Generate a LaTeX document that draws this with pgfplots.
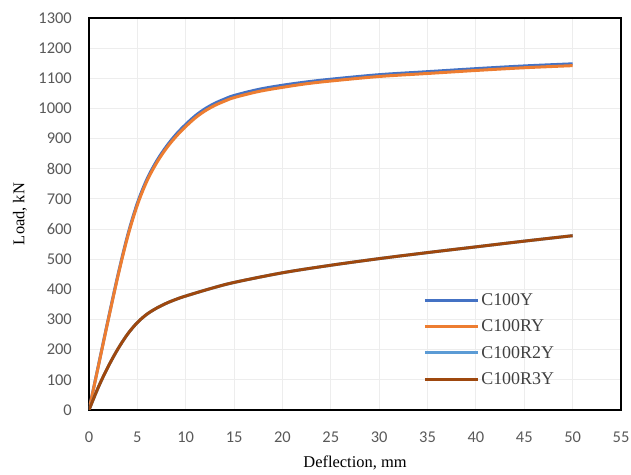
\documentclass[border=0pt]{standalone}
\usepackage{fontspec}
\setmainfont{Liberation Serif}
\newfontfamily\carlito{Carlito}
\usepackage{pgfplots}
\pgfplotsset{compat=1.18}
\definecolor{cA}{HTML}{4472C4}
\definecolor{cB}{HTML}{ED7D31}
\definecolor{cC}{HTML}{5B9BD5}
\definecolor{cD}{HTML}{9E480E}
\definecolor{tickgray}{HTML}{595959}
\begin{document}
\begin{tikzpicture}
\useasboundingbox (-89bp,-65bp) rectangle (542bp,410bp);
\begin{axis}[
  scale only axis,
  width=532bp, height=392bp,
  xmin=0, xmax=55, ymin=0, ymax=1300,
  xtick={0,5,...,55}, ytick={0,100,...,1300},
  major tick length=0pt,
  grid=major,
  major grid style={color=black!7, line width=1bp},
  axis line style={black, line width=1.1bp},
  /pgf/number format/assume math mode=true,
  /pgf/number format/1000 sep={},
  ticklabel style={font=\carlito\fontsize{16.5}{19}\selectfont, text=tickgray, inner sep=0pt},
  xticklabel style={anchor=center, yshift=-27bp},
  yticklabel style={anchor=east, xshift=-17bp},
  xlabel={Deflection, mm},
  ylabel={Load, kN},
  label style={font=\fontsize{16.5}{19}\selectfont, text=black},
  xlabel style={at={(axis description cs:0.5,-0.135)}, anchor=center},
  ylabel style={at={(axis description cs:-0.13,0.5)}, anchor=center},
  legend style={draw=none, fill=none, at={(axis description cs:0.628,0.303)}, anchor=north west,
    font=\fontsize{18}{21}\selectfont, text=black!75, row sep=9bp, inner sep=0pt},
  legend cell align=left,
  legend image code/.code={\draw[#1, line width=3bp] (0bp,0bp) -- (53bp,0bp);},
  every axis plot/.append style={line width=3bp, smooth, tension=0.55},
]
\addplot[cA] coordinates {
(0,0) (1,152) (2,303) (3,449) (4,580) (5,686) (6,766) (7,826) (8,874) (9,914) (10,947) (11,976) (12,999) (13,1017) (14,1031) (15,1043) (17.5,1063) (20,1077) (22.5,1088) (25,1097) (30,1112) (35,1122) (40,1132) (45,1141) (50,1148)};
\addlegendentry{C100Y}
\addplot[cB] coordinates {
(0,0) (1,150) (2,300) (3,445) (4,575) (5,680) (6,760) (7,820) (8,868) (9,907) (10,940) (11,969) (12,992) (13,1010) (14,1024) (15,1036) (17.5,1056) (20,1070) (22.5,1082) (25,1091) (30,1106) (35,1116) (40,1126) (45,1135) (50,1142)};
\addlegendentry{C100RY}
\addplot[cC] coordinates {
(0,0) (1,78) (2,145) (3,203) (4,252) (5,290) (6,318) (7,338) (8,354) (9,367) (10,378) (12.5,402) (15,423) (20,455) (25,480) (30,502) (35,522) (40,541) (45,560) (50,578)};
\addlegendentry{C100R2Y}
\addplot[cD] coordinates {
(0,0) (1,78) (2,145) (3,203) (4,252) (5,290) (6,318) (7,338) (8,354) (9,367) (10,378) (12.5,402) (15,423) (20,455) (25,480) (30,502) (35,522) (40,541) (45,560) (50,578)};
\addlegendentry{C100R3Y}
\end{axis}
\end{tikzpicture}
\end{document}
